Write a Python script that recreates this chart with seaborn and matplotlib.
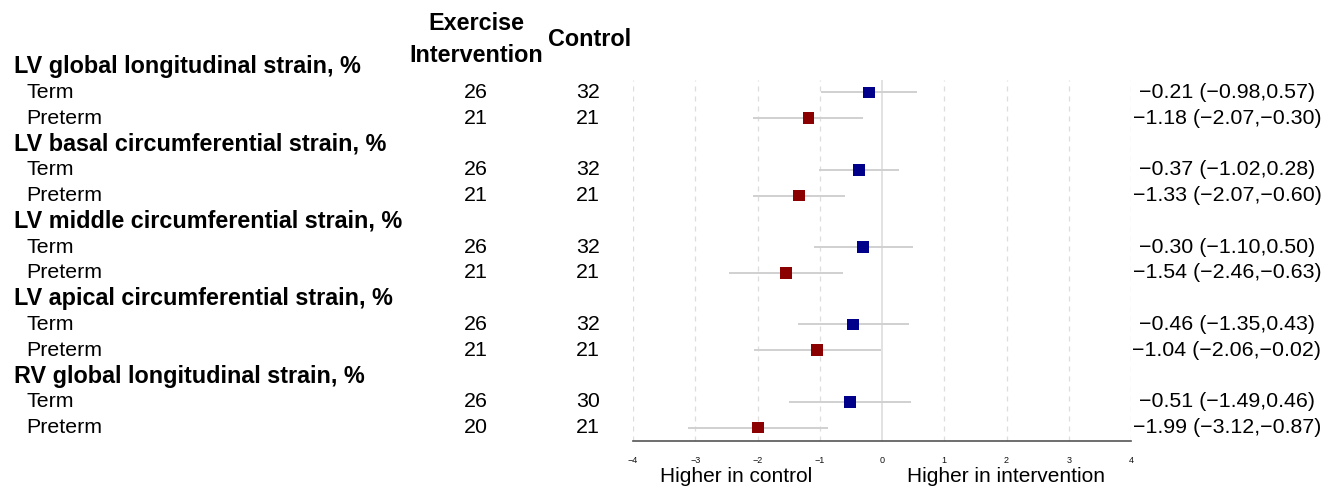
import numpy as np
import pandas as pd
import matplotlib
matplotlib.use("Agg")
import matplotlib.pyplot as plt
import seaborn as sns

# Data
outcomes = ["LV global longitudinal strain, %",
            "LV basal circumferential strain, %",
            "LV middle circumferential strain, %",
            "LV apical circumferential strain, %",
            "RV global longitudinal strain, %"]
groups = ["Term", "Preterm"]
n_exercise = [26, 21, 26, 21, 26, 21, 26, 21, 26, 20]
n_control = [32, 21, 32, 21, 32, 21, 32, 21, 30, 21]
estimate = [-0.21, -1.18, -0.37, -1.33, -0.30, -1.54, -0.46, -1.04, -0.51, -1.99]
ci_low = [-0.98, -2.07, -1.02, -2.07, -1.10, -2.46, -1.35, -2.06, -1.49, -3.12]
ci_high = [0.57, -0.30, 0.28, -0.60, 0.50, -0.63, 0.43, -0.02, 0.46, -0.87]
x_ticks = [-4, -3, -2, -1, 0, 1, 2, 3, 4]

sns.set_style("white")
plt.rcParams['font.family'] = ['Liberation Sans', 'DejaVu Sans']
plt.rcParams['axes.unicode_minus'] = True
plt.rcParams['text.color'] = 'black'

# row layout: each outcome has a header row followed by its two groups
rows = []
header_rows = []
r = 0
for i, name in enumerate(outcomes):
    header_rows.append(r)
    r += 1
    for g in groups:
        rows.append(r)
        r += 1

df = pd.DataFrame({
    "row": rows,
    "group": groups * len(outcomes),
    "est": estimate,
    "lo": ci_low,
    "hi": ci_high,
    "n_ex": n_exercise,
    "n_ct": n_control,
})

W, H = 1323, 488
fig = plt.figure(figsize=(W / 100, H / 100), dpi=100)
ax_left, ax_right, ax_top, ax_bot = 633, 1131, 79.5, 440.5
ax = fig.add_axes([ax_left / W, (H - ax_bot) / H,
                   (ax_right - ax_left) / W, (ax_bot - ax_top) / H])

# grid lines
for t in x_ticks:
    if t == 0:
        ax.axvline(t, color="#dddddd", lw=1.2, zorder=0)
    else:
        ax.axvline(t, color="#dddddd", lw=0.9, ls=(0, (4, 4)), zorder=0)

ax.hlines(df["row"], df["lo"], df["hi"], color="#d0d0d0", lw=1.4, zorder=1)
sns.scatterplot(data=df, x="est", y="row", hue="group",
                palette={"Term": "#00008B", "Preterm": "#8B0000"},
                marker="s", s=72, edgecolor="none", legend=False, zorder=3, ax=ax)

ax.set_xlim(-4, 4)
ax.set_ylim(14.5, 0.5)
ax.set_xticks(x_ticks)
ax.set_xticklabels([f"{t}".replace("-", "\u2212") for t in x_ticks], fontsize=6.5)
ax.set_yticks([])
ax.set_xlabel("")
ax.set_ylabel("")
for s in ["top", "right", "left"]:
    ax.spines[s].set_visible(False)
ax.spines["bottom"].set_color("#555555")
ax.spines["bottom"].set_linewidth(1.2)
ax.tick_params(axis="x", direction="out", length=5, width=1, color="#555555",
               pad=6, labelcolor="#111111")

# text columns, placed with x in figure pixels and y in data rows
def px(x):
    return x / W

trans = matplotlib.transforms.blended_transform_factory(fig.transFigure, ax.transData)

for i, name in enumerate(outcomes):
    ax.text(px(14), header_rows[i], name, transform=trans, fontsize=16.8,
            fontweight="bold", ha="left", va="center", clip_on=False)

fs = 15.4
for _, row in df.iterrows():
    ax.text(px(26), row["row"], row["group"], transform=trans, fontsize=fs,
            ha="left", va="center", clip_on=False)
    ax.text(px(476), row["row"], f"{row['n_ex']}", transform=trans, fontsize=fs,
            ha="center", va="center", clip_on=False)
    ax.text(px(588), row["row"], f"{row['n_ct']}", transform=trans, fontsize=fs,
            ha="center", va="center", clip_on=False)
    label = f"{row['est']:.2f} ({row['lo']:.2f},{row['hi']:.2f})".replace("-", "\u2212")
    ax.text(px(1227), row["row"], label, transform=trans, fontsize=fs,
            ha="center", va="center", clip_on=False)

fig.text(px(476), 1 - 39 / H, "Exercise\nIntervention", fontsize=16.8, fontweight="bold",
         ha="center", va="center", linespacing=1.5)
fig.text(px(590), 1 - 40 / H, "Control", fontsize=16.8, fontweight="bold",
         ha="center", va="center")

fig.text(px(736), 1 - 477 / H, "Higher in control", fontsize=15, ha="center", va="center")
fig.text(px(1006), 1 - 477 / H, "Higher in intervention", fontsize=15, ha="center", va="center")

fig.savefig("out.png", dpi=100)
